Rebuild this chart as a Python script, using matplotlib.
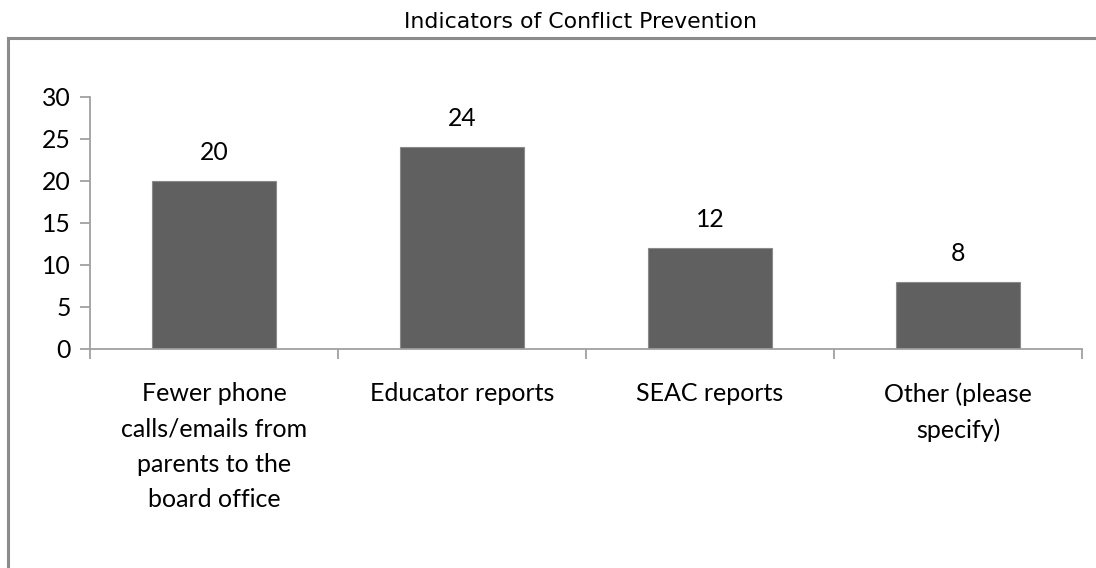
import matplotlib
matplotlib.use('Agg')
from matplotlib import pyplot as plt
from matplotlib.lines import Line2D
import numpy as np

title = 'Indicators of Conflict Prevention'
categories = ['Fewer phone\ncalls/emails from\nparents to the\nboard office',
              'Educator reports',
              'SEAC reports',
              'Other (please\nspecify)']
counts = [20, 24, 12, 8]
y_ticks = [0, 5, 10, 15, 20, 25, 30]

W, H, DPI = 1096, 568, 100
fig = plt.figure(figsize=(W / DPI, H / DPI), dpi=DPI)
fig.patch.set_facecolor('white')

# frame around the plot area (open to the right and bottom)
border = '#8c8c8c'
fig.add_artist(Line2D([7.5 / W, 7.5 / W], [0, 1 - 37.7 / H], transform=fig.transFigure,
                      color=border, lw=2.2))
fig.add_artist(Line2D([7.5 / W, 1], [1 - 37.7 / H, 1 - 37.7 / H], transform=fig.transFigure,
                      color=border, lw=2.2))

fig.text(580 / W, 1 - 22.5 / H, title, ha='center', va='center',
         fontsize=15.8, family='DejaVu Sans', color='black')

ax = fig.add_axes([90 / W, 1 - 349 / H, (1082 - 90) / W, (349 - 96.7) / H])
x = np.arange(len(categories))
bars = ax.bar(x, counts, width=0.5, color='#606060', edgecolor='#8a8a8a', linewidth=0.8,
              zorder=2)

for xi, v in zip(x, counts):
    ax.annotate(str(v), (xi, v), xytext=(0, 15), textcoords='offset points',
                ha='center', va='baseline', fontsize=17.8, family='Lato', color='black')

ax.set_xlim(-0.5, len(categories) - 0.5)
ax.set_ylim(0, 30)
ax.set_yticks(y_ticks)
ax.set_yticklabels([str(t) for t in y_ticks], fontsize=17.8, family='Lato')

ax.set_xticks(x)
ax.set_xticklabels(categories, fontsize=18, family='Lato', linespacing=1.65, va='top')
ax.set_xticks(np.arange(-0.5, len(categories)), minor=True)

axis_col = '#a0a0a0'
for side in ['top', 'right']:
    ax.spines[side].set_visible(False)
for side in ['left', 'bottom']:
    ax.spines[side].set_color(axis_col)
    ax.spines[side].set_linewidth(1.3)

ax.tick_params(axis='y', direction='out', length=7.2, width=1.3, color=axis_col, pad=6.5)
ax.tick_params(axis='x', which='major', length=0, pad=24)
ax.tick_params(axis='x', which='minor', direction='out', length=7.2, width=1.3, color=axis_col)

fig.savefig('out.png', dpi=DPI, facecolor='white')
